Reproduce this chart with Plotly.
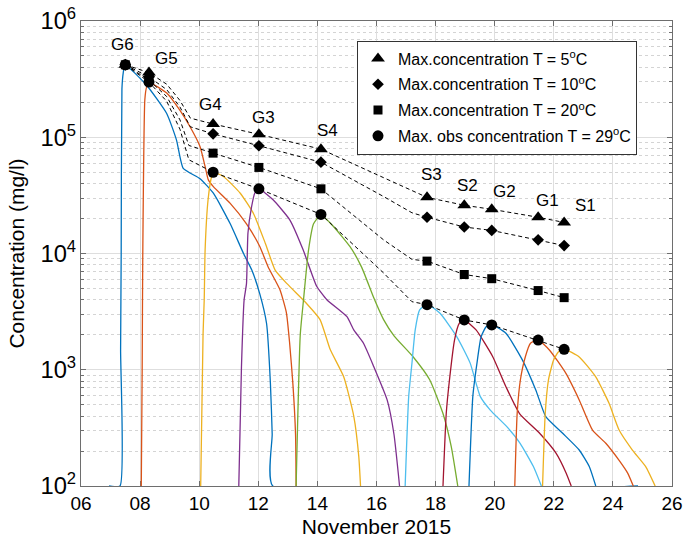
import math
import plotly.graph_objects as go

# ---------------- data (day of November 2015, concentration mg/l) ----------------
g6_day  = [6.95, 7.32, 7.34, 7.36, 7.385, 7.43, 7.49, 8.22, 8.9, 9.23, 9.46, 10.03, 10.48, 11.05, 11.5, 11.78, 12.05, 12.28, 12.41, 12.47, 12.49, 24.85]
g6_conc = [100, 100, 1.5e3, 1.0e4, 2.6e5, 3.6e5, 4.2e5, 2.8e5, 1.6e5, 9.5e4, 5.4e4, 4.4e4, 3.3e4, 1.8e4, 1.0e4, 7.2e3, 4.5e3, 2.5e3, 760, 280, 100, 100]

g5_day  = [8.04, 8.07, 8.09, 8.16, 8.22, 8.31, 8.9, 9.35, 9.69, 10.03, 10.2, 10.31, 10.48, 11.05, 11.6, 12.05, 12.33, 12.73, 12.95, 13.06, 13.17, 13.26, 13.28]
g5_conc = [100, 1.0e3, 9.5e3, 2.1e5, 2.7e5, 2.95e5, 2.4e5, 1.7e5, 1.23e5, 8.3e4, 5.6e4, 4.3e4, 3.76e4, 2.7e4, 1.8e4, 1.15e4, 7.7e3, 4.9e3, 3.1e3, 1.7e3, 760, 280, 100]

g4_day  = [10.05, 10.13, 10.17, 10.2, 10.3, 10.42, 10.48, 10.82, 11.39, 11.84, 12.24, 12.57, 12.97, 13.64, 14.09, 14.43, 14.89, 15.23, 15.4, 15.46]
g4_conc = [100, 2.0e3, 4.0e3, 1.07e4, 2.9e4, 4.6e4, 5.0e4, 4.6e4, 3.3e4, 2.2e4, 1.22e4, 7.2e3, 5.5e3, 3.7e3, 2.7e3, 1.5e3, 870, 400, 180, 100]

g3_day  = [11.34, 11.43, 11.52, 11.6, 11.65, 11.77, 11.88, 12.02, 12.5, 13.07, 13.52, 13.8, 13.98, 14.32, 15.0, 15.23, 15.56, 15.91, 16.36, 16.59, 16.78]
g3_conc = [100, 1.06e3, 4.0e3, 5.5e3, 1.5e4, 2.5e4, 3.3e4, 3.6e4, 2.9e4, 1.94e4, 1.07e4, 6.8e3, 5.2e3, 4.0e3, 2.86e3, 2.2e3, 1.69e3, 1.06e3, 550, 280, 100]

s4_day  = [13.28, 13.42, 13.53, 13.7, 13.87, 14.12, 14.55, 15.11, 15.5, 15.9, 16.24, 16.6, 17.23, 17.8, 18.25, 18.53, 18.75]
s4_conc = [100, 2.0e3, 4.0e3, 1.07e4, 1.8e4, 2.15e4, 1.7e4, 1.14e4, 7.6e3, 4.2e3, 2.7e3, 1.95e3, 1.3e3, 820, 420, 218, 100]

s3_day  = [16.97, 17.09, 17.2, 17.31, 17.46, 17.71, 18.15, 18.72, 19.17, 19.51, 19.85, 20.41, 20.86, 21.31, 21.58]
s3_conc = [100, 590, 1.14e3, 2.2e3, 3.27e3, 3.65e3, 3.06e3, 1.92e3, 1.14e3, 590, 450, 324, 233, 147, 100]

s2_day  = [18.25, 18.36, 18.47, 18.64, 18.8, 18.97, 19.37, 19.93, 20.38, 20.84, 21.52, 22.08, 22.42, 22.59]
s2_conc = [100, 420, 820, 1.8e3, 2.5e3, 2.68e3, 2.2e3, 1.3e3, 715, 420, 284, 191, 129, 100]

g2_day  = [19.13, 19.26, 19.4, 19.54, 19.71, 19.9, 20.38, 20.94, 21.39, 21.73, 22.3, 22.86, 23.2, 23.42]
g2_conc = [100, 590, 1.14e3, 1.92e3, 2.34e3, 2.45e3, 2.06e3, 1.21e3, 670, 395, 284, 204, 147, 100]

g1_day  = [20.68, 20.76, 20.87, 21.04, 21.21, 21.47, 21.85, 22.41, 22.86, 23.31, 23.76, 24.21, 24.5, 24.69]
g1_conc = [100, 420, 820, 1.3e3, 1.69e3, 1.8e3, 1.48e3, 930, 550, 303, 233, 166, 129, 100]

s1_day  = [21.62, 21.71, 21.82, 21.99, 22.16, 22.36, 22.86, 23.42, 23.87, 24.21, 24.66, 25.11, 25.43]
s1_conc = [100, 420, 820, 1.21e3, 1.43e3, 1.5e3, 1.29e3, 870, 514, 303, 204, 147, 100]

# peak markers
site_names = ["G6", "G5", "G4", "G3", "S4", "S3", "S2", "G2", "G1", "S1"]
peak_day   = [7.5, 8.3, 10.47, 12.02, 14.12, 17.71, 18.97, 19.9, 21.47, 22.35]
max_t5     = [4.2e5, 3.6e5, 1.3e5, 1.06e5, 7.9e4, 3.04e4, 2.6e4, 2.4e4, 2.05e4, 1.85e4]
max_t10    = [4.2e5, 3.3e5, 1.07e5, 8.45e4, 6.1e4, 2.05e4, 1.69e4, 1.58e4, 1.31e4, 1.17e4]
max_t20    = [4.2e5, 3.1e5, 7.3e4, 5.5e4, 3.6e4, 8.6e3, 6.6e3, 6.07e3, 4.8e3, 4.17e3]
max_t29    = [4.2e5, 2.98e5, 5.0e4, 3.6e4, 2.17e4, 3.63e3, 2.68e3, 2.43e3, 1.8e3, 1.5e3]

# dashed envelope lines (include intermediate bend points)
env_day_a = [7.5, 8.3, 8.9, 9.35, 9.7, 10.47, 12.02, 14.12, 16.24, 17.2, 17.71, 18.97, 19.9, 21.47, 22.35]
env_t5    = [4.2e5, 3.6e5, 2.86e5, 2.07e5, 1.46e5, 1.3e5, 1.06e5, 7.9e4, 4.49e4, 3.47e4, 3.04e4, 2.6e4, 2.4e4, 2.05e4, 1.85e4]
env_t10   = [4.2e5, 3.3e5, 2.57e5, 1.82e5, 1.23e5, 1.07e5, 8.45e4, 6.1e4, 3.09e4, 2.24e4, 2.05e4, 1.69e4, 1.58e4, 1.31e4, 1.17e4]
env_day_b = [7.5, 8.3, 8.9, 9.35, 9.65, 10.47, 12.02, 14.12, 16.24, 17.2, 17.71, 18.97, 19.9, 21.47, 22.35]
env_t20   = [4.2e5, 3.1e5, 2.24e5, 1.41e5, 8.5e4, 7.3e4, 5.5e4, 3.6e4, 1.31e4, 8.9e3, 8.6e3, 6.6e3, 6.07e3, 4.8e3, 4.17e3]
env_t29   = [4.2e5, 2.98e5, 2.04e5, 1.17e5, 6.4e4, 5.0e4, 3.6e4, 2.17e4, 6.8e3, 3.85e3, 3.63e3, 2.68e3, 2.43e3, 1.8e3, 1.5e3]

# site label positions
label_day  = [7.41, 8.9, 10.39, 12.18, 14.33, 17.85, 19.07, 20.32, 21.77, 23.06]
label_conc = [6.3e5, 4.8e5, 1.93e5, 1.47e5, 1.14e5, 4.8e4, 3.85e4, 3.4e4, 2.85e4, 2.6e4]

x_tickvals = [6, 8, 10, 12, 14, 16, 18, 20, 22, 24, 26]
x_ticktext = ["06", "08", "10", "12", "14", "16", "18", "20", "22", "24", "26"]

# ---------------- figure ----------------
C_BLUE, C_ORANGE, C_YELLOW = "#0072BD", "#D95319", "#EDB120"
C_PURPLE, C_GREEN, C_LBLUE, C_RED = "#7E2F8E", "#77AC30", "#4DBEEE", "#A2142F"
FONT = "Liberation Sans, Arial, Helvetica, sans-serif"

curves = [
    (g6_day, g6_conc, C_BLUE), (g5_day, g5_conc, C_ORANGE), (g4_day, g4_conc, C_YELLOW),
    (g3_day, g3_conc, C_PURPLE), (s4_day, s4_conc, C_GREEN), (s3_day, s3_conc, C_LBLUE),
    (s2_day, s2_conc, C_RED), (g2_day, g2_conc, C_BLUE), (g1_day, g1_conc, C_ORANGE),
    (s1_day, s1_conc, C_YELLOW),
]

fig = go.Figure()
for d, c, col in curves:
    fig.add_trace(go.Scatter(x=d, y=c, mode="lines",
                             line=dict(color=col, width=1.3, shape="spline", smoothing=0.5),
                             showlegend=False, hoverinfo="skip"))

for d, c in [(env_day_a, env_t5), (env_day_a, env_t10), (env_day_b, env_t20), (env_day_b, env_t29)]:
    fig.add_trace(go.Scatter(x=d, y=c, mode="lines",
                             line=dict(color="black", width=1, dash="4px,3px"),
                             showlegend=False, hoverinfo="skip"))

series = [
    (max_t5, "triangle-up", 12, "Max.concentration T = 5<sup>o</sup>C"),
    (max_t10, "diamond", 9, "Max.concentration T = 10<sup>o</sup>C"),
    (max_t20, "square", 9, "Max.concentration T = 20<sup>o</sup>C"),
    (max_t29, "circle", 11, "Max. obs concentration T = 29<sup>o</sup>C"),
]
for i, (vals, sym, sz, name) in enumerate(series):
    fig.add_trace(go.Scatter(x=peak_day, y=vals, mode="markers", name=name,
                             legendgroup=f"g{i}",
                             marker=dict(symbol=sym, size=sz, color="black", line=dict(width=0))))

for nm, xd, yc in zip(site_names, label_day, label_conc):
    fig.add_annotation(x=xd, y=math.log10(yc), text=nm, showarrow=False, yref="y", xref="x",
                       font=dict(size=17, color="black", family=FONT))

axis_common = dict(
    showline=True, linecolor="#6e6e6e", linewidth=1.2, mirror="ticks",
    ticks="inside", ticklen=5, tickcolor="#6e6e6e", tickwidth=1,
    showgrid=True, gridcolor="#dedede", gridwidth=1, zeroline=False,
    tickfont=dict(size=19, color="black", family=FONT),
    automargin=False, layer="below traces",
)

fig.update_xaxes(
    **axis_common, range=[6, 26], tickmode="array", tickvals=x_tickvals, ticktext=x_ticktext,
    title=dict(text="November 2015", font=dict(size=21, color="black", family=FONT), standoff=6),
)
fig.update_yaxes(
    **axis_common, type="log", range=[2, 6], dtick=1, exponentformat="power",
    minor=dict(dtick="D1", ticks="inside", ticklen=3, tickcolor="#6e6e6e",
               showgrid=True, gridcolor="#d4d4d4", griddash="dot", gridwidth=1),
    title=dict(text="Concentration (mg/l)", font=dict(size=21, color="black", family=FONT), standoff=10),
)

fig.update_layout(
    width=699, height=541,
    margin=dict(l=81, r=27, t=21, b=55),
    paper_bgcolor="white", plot_bgcolor="white",
    font=dict(family=FONT, color="black"),
    legend=dict(x=0.467, y=0.958, xanchor="left", yanchor="top",
                bgcolor="white", bordercolor="#333333", borderwidth=1,
                font=dict(size=16, color="black", family=FONT),
                tracegroupgap=2, itemwidth=30),
    showlegend=True,
)

fig.write_html("out.html")
